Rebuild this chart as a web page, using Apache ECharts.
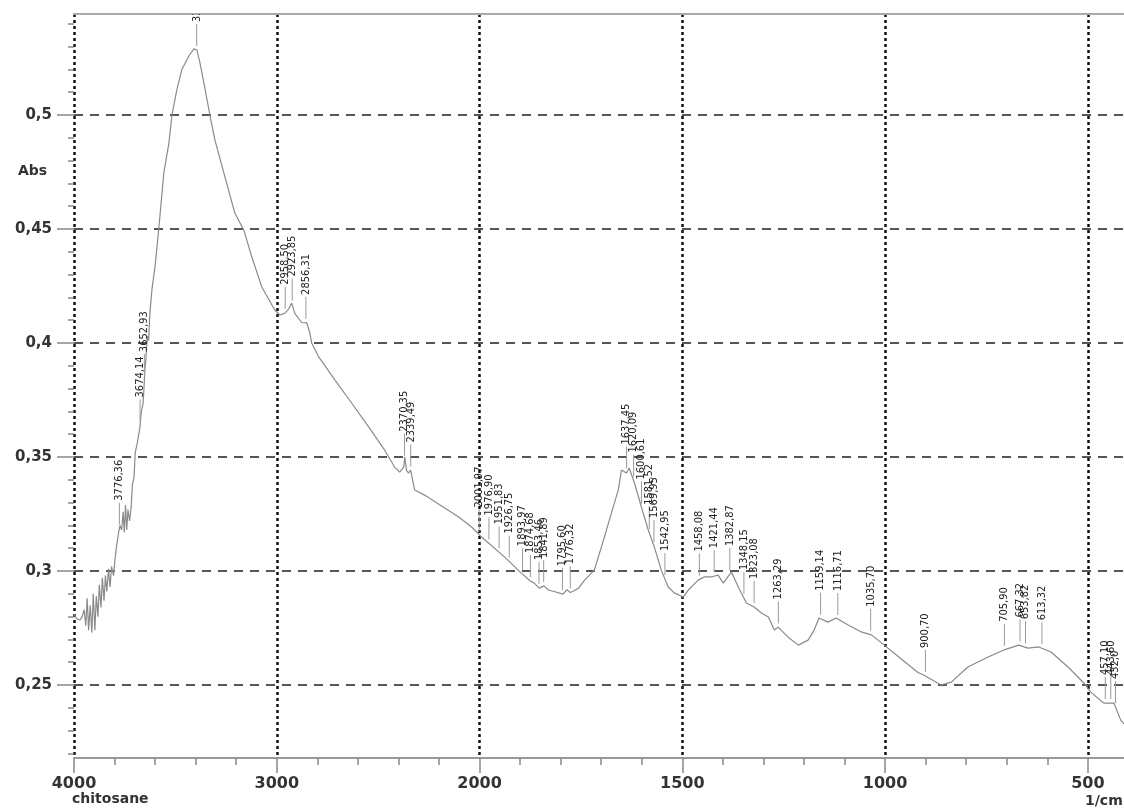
<!DOCTYPE html>
<html>
<head>
<meta charset="utf-8">
<script src="https://cdn.jsdelivr.net/npm/echarts@6/dist/echarts.min.js"></script>
<style>html,body{margin:0;padding:0;background:#fff}#c{width:1124px;height:808px}</style>
</head>
<body>
<div id="c"></div>
<script>
// ---- data (wavenumber in 1/cm, absorbance) ----
const wavenumbers = [4000,3985,3970,3960,3950,3942,3935,3928,3920,3912,3905,3897,3890,3882,3875,3867,3860,3852,3845,3838,3830,3822,3815,3805,3798,3790,3780,3773,3765,3758,3752,3746,3740,3734,3726,3718,3712,3704,3698,3688,3675,3668,3660,3655,3650,3646,3642,3638,3632,3626,3615,3601,3581,3557,3532,3517,3493,3468,3433,3409,3394,3379,3355,3330,3305,3256,3207,3163,3123,3074,3010,2985,2961,2945,2926,2911,2877,2852,2837,2828,2793,2714,2631,2547,2468,2419,2394,2374,2369,2360,2350,2340,2320,2271,2172,2103,2039,1995,1938,1897,1874,1865,1853,1841,1830,1812,1805,1795,1785,1776,1766,1756,1741,1717,1692,1675,1658,1650,1638,1631,1618,1601,1584,1569,1552,1535,1520,1498,1485,1461,1446,1429,1412,1399,1379,1362,1342,1323,1305,1288,1273,1264,1239,1214,1190,1175,1163,1141,1121,1091,1059,1034,1002,961,919,905,862,837,796,746,707,670,648,621,591,549,510,493,461,436,419,411];
const absorbance = [0.281,0.279,0.2785,0.280,0.283,0.276,0.288,0.274,0.285,0.273,0.290,0.274,0.289,0.280,0.294,0.284,0.297,0.287,0.298,0.291,0.301,0.293,0.302,0.298,0.305,0.311,0.317,0.320,0.318,0.326,0.317,0.329,0.318,0.327,0.322,0.328,0.338,0.341,0.352,0.356,0.363,0.370,0.373,0.380,0.389,0.392,0.398,0.403,0.401,0.413,0.424,0.433,0.451,0.4746,0.4877,0.500,0.511,0.520,0.526,0.529,0.5285,0.523,0.512,0.500,0.489,0.473,0.457,0.4496,0.4377,0.4246,0.4145,0.4123,0.413,0.4145,0.4175,0.413,0.409,0.4088,0.4044,0.400,0.3939,0.3838,0.3737,0.3632,0.353,0.3456,0.3434,0.3456,0.350,0.344,0.343,0.3443,0.3355,0.3333,0.3276,0.3237,0.3193,0.3149,0.3061,0.2991,0.2955,0.2947,0.2925,0.2935,0.2917,0.2908,0.2904,0.2898,0.2918,0.2906,0.2915,0.2925,0.296,0.3004,0.315,0.3254,0.3355,0.3443,0.343,0.3452,0.3386,0.3281,0.318,0.3105,0.3004,0.293,0.2904,0.2886,0.2917,0.296,0.2974,0.2974,0.2982,0.2947,0.2996,0.293,0.286,0.2842,0.2816,0.2798,0.2741,0.2754,0.271,0.2675,0.2697,0.2741,0.2794,0.2776,0.2794,0.2763,0.2733,0.272,0.2675,0.2615,0.2555,0.2544,0.250,0.2513,0.2579,0.2623,0.2654,0.2675,0.2662,0.2667,0.2645,0.2579,0.2509,0.2469,0.2421,0.2421,0.2346,0.233];

const peakWavenumbers = [3776.36,3674.14,3652.93,3395,2958.50,2923.85,2856.31,2370.35,2339.49,2001.97,1976.90,1951.83,1926.75,1893.97,1874.68,1853.46,1841.89,1795.60,1776.32,1637.45,1620.09,1600.61,1581.52,1569.95,1542.95,1458.08,1421.44,1382.87,1348.15,1323.08,1263.29,1159.14,1116.71,1035.70,900.70,705.90,667.32,653.82,613.32,457.10,443.60,432.0];
const peakLabels = ['3776,36','3674,14','3652,93','339','2958,50','2923,85','2856,31','2370,35','2339,49','2001,97','1976,90','1951,83','1926,75','1893,97','1874,68','1853,46','1841,89','1795,60','1776,32','1637,45','1620,09','1600,61','1581,52','1569,95','1542,95','1458,08','1421,44','1382,87','1348,15','1323,08','1263,29','1159,14','1116,71','1035,70','900,70','705,90','667,32','653,82','613,32','457,10','443,60','432,0'];

const xTickWavenumbers = [4000,3000,2000,1500,1000,500];
const xTickLabels = ['4000','3000','2000','1500','1000','500'];
const yTickValues = [0.25,0.30,0.35,0.40,0.45,0.50];
const yTickLabels = ['0,25','0,3','0,35','0,4','0,45','0,5'];

// ---- axis transform: scale changes at 2000 1/cm (half scale above 2000) ----
function toU(w){ return w >= 2000 ? (4000 - w) / 2 : 3000 - w; }
const X_MIN_W = 4000, X_MAX_W = 411;
const Y_MIN = 0.218, Y_MAX = 0.5443;

const xMajor = xTickWavenumbers.map(toU);
const xMinor = [];
for (let w = 3800; w > 2000; w -= 200) xMinor.push(toU(w));
for (let w = 1900; w > X_MAX_W; w -= 100) if (w % 500 !== 0) xMinor.push(toU(w));
const yMinor = [];
for (let k = 22; k <= 54; k++) if (k % 5 !== 0) yMinor.push(k / 100);

function interpAbs(w){
  for (let i = 0; i < wavenumbers.length - 1; i++){
    const a = wavenumbers[i], b = wavenumbers[i+1];
    if (w <= a && w >= b){ const t = (a - w) / (a - b); return absorbance[i] + t * (absorbance[i+1] - absorbance[i]); }
  }
  return absorbance[absorbance.length-1];
}

const lineData = wavenumbers.map((w, i) => [toU(w), absorbance[i]]);
const peakData = peakWavenumbers.map(w => [toU(w), interpAbs(w)]);

const boldFont = 'DejaVu Sans';
const chart = echarts.init(document.getElementById('c'), null, {renderer: 'canvas'});
chart.setOption({
  animation: false,
  backgroundColor: '#fff',
  grid: {left: 74, right: 0, top: 14, bottom: 50},
  xAxis: [
    {
      type: 'value', min: toU(X_MIN_W), max: toU(X_MAX_W), position: 'bottom',
      axisLine: {show: true, onZero: false, lineStyle: {color: '#999', width: 2}},
      axisTick: {show: true, customValues: xMajor, length: 15, lineStyle: {color: '#888', width: 1.5}},
      axisLabel: {customValues: xMajor, margin: 18, color: '#333', fontFamily: boldFont, fontWeight: 'bold', fontSize: 16,
        formatter: v => { const i = xMajor.indexOf(v); return i >= 0 ? xTickLabels[i] : ''; }},
      splitLine: {show: true, lineStyle: {color: '#111', width: 2.5, type: [3, 3]}}
    },
    {
      type: 'value', min: toU(X_MIN_W), max: toU(X_MAX_W), position: 'bottom',
      axisLine: {show: false},
      axisTick: {show: true, customValues: xMinor, length: 7, lineStyle: {color: '#888', width: 1.5}},
      axisLabel: {show: false}, splitLine: {show: false}
    },
    {
      type: 'value', min: toU(X_MIN_W), max: toU(X_MAX_W), position: 'top',
      axisLine: {show: true, lineStyle: {color: '#aaa', width: 2}},
      axisTick: {show: false}, axisLabel: {show: false}, splitLine: {show: false}
    }
  ],
  yAxis: [
    {
      type: 'value', min: Y_MIN, max: Y_MAX, position: 'left',
      axisLine: {show: false},
      axisTick: {show: true, customValues: yTickValues, length: 17, lineStyle: {color: '#888', width: 1.5}},
      axisLabel: {customValues: yTickValues, margin: 22, color: '#333', fontFamily: boldFont, fontWeight: 'bold', fontSize: 15,
        formatter: v => { let i = -1; yTickValues.forEach((t, k) => { if (Math.abs(t - v) < 1e-6) i = k; }); return i >= 0 ? yTickLabels[i] : ''; }},
      splitLine: {show: true, lineStyle: {color: '#555', width: 2, type: [9, 7]}}
    },
    {
      type: 'value', min: Y_MIN, max: Y_MAX, position: 'left',
      axisLine: {show: false},
      axisTick: {show: true, customValues: yMinor, length: 6, lineStyle: {color: '#888', width: 1.5}},
      axisLabel: {show: false}, splitLine: {show: false}
    }
  ],
  graphic: [
    {type: 'text', left: 18, top: 164, style: {text: 'Abs', fill: '#333', font: 'bold 14px "DejaVu Sans"'}},
    {type: 'text', left: 72, top: 792, style: {text: 'chitosane', fill: '#333', font: 'bold 14px "DejaVu Sans"'}},
    {type: 'text', left: 1085, top: 794, style: {text: '1/cm', fill: '#333', font: 'bold 14px "DejaVu Sans"'}}
  ],
  series: [
    {
      type: 'line', xAxisIndex: 0, yAxisIndex: 0, data: lineData, showSymbol: false, symbol: 'none',
      lineStyle: {color: '#8a8a8a', width: 1.2}, silent: true, z: 3
    },
    {
      type: 'custom', xAxisIndex: 0, yAxisIndex: 0, data: peakData, clip: true, silent: true, z: 4,
      renderItem: function (params, api) {
        const p = api.coord([api.value(0), api.value(1)]);
        const lift = 28;
        return {
          type: 'group',
          children: [
            {type: 'line', shape: {x1: p[0], y1: p[1] - 4, x2: p[0], y2: p[1] - lift + 2}, style: {stroke: '#999', lineWidth: 1}},
            {type: 'text', x: p[0], y: p[1] - lift, rotation: Math.PI / 2,
              style: {text: peakLabels[params.dataIndex], align: 'left', verticalAlign: 'middle', fill: '#222',
                font: '11px "Liberation Sans Narrow", "DejaVu Sans Condensed", sans-serif'}}
          ]
        };
      }
    }
  ]
});
</script>
</body>
</html>
